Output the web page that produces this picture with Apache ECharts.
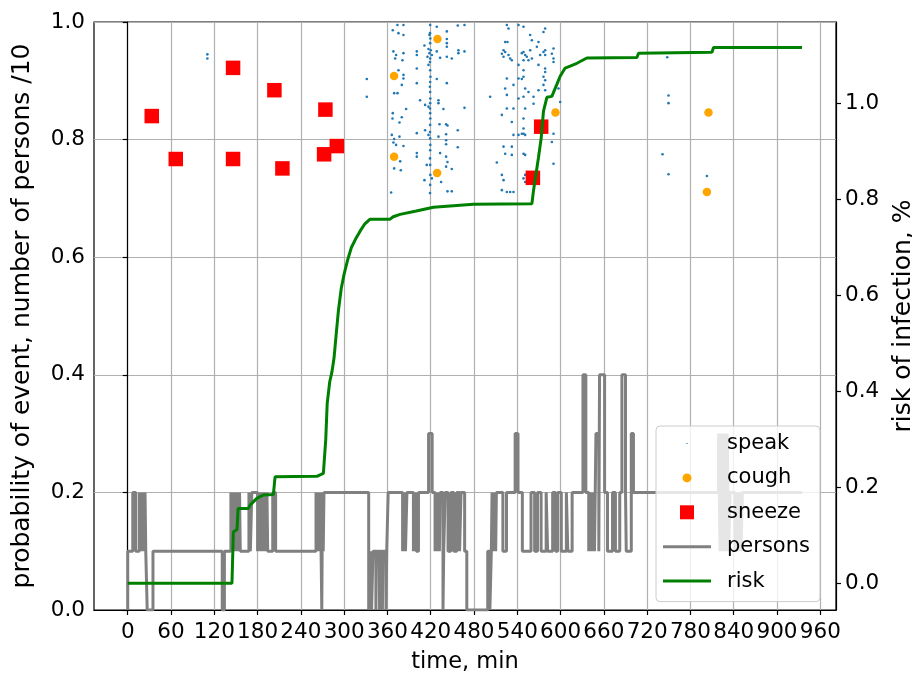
<!DOCTYPE html>
<html><head><meta charset="utf-8">
<script src="https://cdn.jsdelivr.net/npm/echarts@6/dist/echarts.min.js"></script>
<style>html,body{margin:0;padding:0;background:#fff}#chart{width:912px;height:676px}</style>
</head><body><div id="chart"></div>
<script>
const xTicks = [0,60,120,180,240,300,360,420,480,540,600,660,720,780,840,900,960];
const riskTicks = [0,0.2,0.4,0.6,0.8,1.0];

const speak = [
[110.4,0.945],[110.4,0.938],[331.4,0.903],[331.4,0.873],
[367.4,0.986],[373.9,0.995],[382.2,0.995],[375.3,0.981],[382.2,0.978],[368.3,0.950],[372.0,0.944],[382.2,0.947],[370.7,0.938],[380.8,0.935],[375.3,0.918],[382.2,0.910],[382.2,0.904],[379.9,0.893],[369.3,0.879],[373.9,0.879],[385.9,0.852],[367.4,0.845],[367.0,0.836],[379.9,0.838],[376.7,0.829],[366.0,0.808],[376.7,0.805],[369.3,0.801],[368.3,0.795],[372.0,0.791],[382.2,0.789],[377.6,0.763],[369.3,0.751],[378.5,0.748],[365.1,0.710],
[419.2,0.995],[419.0,0.981],[419.4,0.972],[419.2,0.964],[419.0,0.932],[419.2,0.918],[419.6,0.907],[419.2,0.898],[418.8,0.890],[419.2,0.881],[419.4,0.870],[419.2,0.862],[419.0,0.853],[419.2,0.845],[419.4,0.836],[419.2,0.825],[419.0,0.813],[419.2,0.802],[419.4,0.791],[419.2,0.782],[419.0,0.768],[419.2,0.757],[419.4,0.740],[419.2,0.723],[419.0,0.709],
[416.9,0.954],[420.1,0.952],[418.3,0.947],[421.5,0.944],[415.5,0.941],[419.2,0.938],
[400.7,0.950],[400.7,0.944],[411.3,0.960],[418.2,0.978],[416.9,0.927],[400.7,0.921],[400.7,0.896],[405.3,0.867],[412.2,0.859],[400.7,0.811],[412.2,0.816],[400.7,0.777],[400.7,0.771],[411.3,0.731],[414.5,0.757],[421.5,0.734],[426.1,0.740],[416.9,0.856],[416.9,0.808],
[428.4,0.992],[442.3,0.984],[442.3,0.971],[442.3,0.964],[442.3,0.958],[428.4,0.950],[433.0,0.939],[442.3,0.941],[449.2,0.938],[458.4,0.952],[458.4,0.947],[466.8,0.950],[428.4,0.903],[442.3,0.896],[430.7,0.867],[430.7,0.862],[437.6,0.852],[466.8,0.854],[432.1,0.826],[441.3,0.826],[443.2,0.824],[457.5,0.816],[441.3,0.809],[430.7,0.805],[441.3,0.799],[441.3,0.792],[457.5,0.787],[433.0,0.777],[441.3,0.771],[443.2,0.762],[449.2,0.750],[441.3,0.754],[434.4,0.728],[443.2,0.712],[449.2,0.712],[457.5,0.994],[466.8,0.995],
[502.3,0.873],[511.6,0.761],
[525.5,0.995],[527.8,0.989],[523.2,0.966],[526.4,0.966],[520.9,0.952],[518.6,0.946],[523.2,0.949],[527.8,0.944],[530.1,0.938],[520.9,0.941],[532.4,0.935],[525.5,0.904],[523.2,0.887],[534.7,0.893],[525.5,0.876],[518.6,0.842],[525.5,0.853],[534.7,0.853],[532.4,0.830],[534.7,0.808],[520.9,0.788],[532.4,0.788],[532.4,0.774],[523.2,0.776],[518.6,0.740],[520.9,0.731],[518.6,0.714],[525.5,0.711],[530.1,0.711],[534.7,0.711],
[541.7,0.995],[548.6,0.992],[557.8,0.978],[560.2,0.969],[548.6,0.949],[550.9,0.944],[553.2,0.941],[546.3,0.947],[557.8,0.952],[560.2,0.938],[548.6,0.935],[555.5,0.935],[541.7,0.927],[548.6,0.918],[569.4,0.966],[567.1,0.958],[541.7,0.904],[546.3,0.903],[548.6,0.907],[550.9,0.887],[555.5,0.881],[548.6,0.873],[562.5,0.873],[541.7,0.870],[562.5,0.861],[550.9,0.853],[548.6,0.836],[548.6,0.819],[548.6,0.810],[541.7,0.808],[546.3,0.810],[550.9,0.808],[548.6,0.776],[550.9,0.774],[550.9,0.740],[548.6,0.734],[550.9,0.728],[557.8,0.725],
[571.7,0.944],[576.3,0.949],[578.6,0.944],[578.6,0.952],[576.3,0.983],[578.6,0.989],[590.2,0.955],[587.9,0.946],[590.2,0.938],[590.2,0.932],[578.6,0.921],[578.6,0.915],[576.3,0.907],[578.6,0.901],[576.3,0.893],[569.4,0.884],[578.6,0.884],[597.1,0.887],[599.4,0.864],[590.2,0.810],[587.9,0.796],[590.2,0.759],[569.4,0.927],
[747.8,0.940],[749.6,0.875],[749.6,0.862],[741.3,0.775],[749.6,0.741],[802.8,0.738]
];

const cough = [[429.3,0.971],[369.2,0.908],[369.2,0.771],[428.9,0.743],[592.9,0.846],[805.0,0.846],[802.8,0.711]];

const sneeze = [[33.3,0.840],[66.6,0.767],[146.0,0.922],[146.0,0.767],[203.3,0.884],[214.4,0.751],[274.0,0.851],[272.2,0.775],[289.8,0.789],[561.6,0.735],[573.1,0.822]];

// number of persons present (change points, value holds until next time)
const persons = [
[0,0],[0,1],[7,2],[11,1],[16,2],[17,1],[18,2],[19,1],[20,2],[21,1],[22,2],[23,1],[24,2],[25,1],[27,0],[35,1],
[131,0],[134,1],
[143,2],[144,1],[145,2],[146,1],[147,2],[148,1],[149,2],[150,1],[151,2],[152,1],[153,2],[154,1],[155,2],[156,1],
[168,2],[170,1],[172,2],[180,1],[181,2],[183,1],[184,2],[186,1],[187,2],[189,1],[190,2],[192,1],[193,2],[194,1],
[201,2],[205,1],
[261,2],[262,1],[263,2],[264,1],[265,2],[266,1],[267,2],[268,1],[269,0],[270,2],[271,1],[272,2],
[334,0],[336,1],[338,0],[340,1],[344,0],[345,1],[349,0],[350,1],[353,0],[354,1],[358,0],[359,1],[361,2],
[381,1],[382,2],[383,1],[384,2],[385,1],[387,2],
[396,1],[397,2],[398,1],[399,2],[400,1],[403,2],
[417,3],[422,2],
[426,1],[427,2],[428,1],[429,2],[430,1],[431,2],[432,1],[433,2],
[437,0],[438,1],[440,2],[444,1],[448,2],[452,1],[456,2],[460,1],[462,2],[467,1],[470,0],
[499,1],[502,0],[504,1],[505,2],[506,1],[507,2],[508,1],[509,2],[510,1],[511,2],
[520,1],[525,2],[537,3],[541,2],[547,1],[559,2],[564,1],[568,2],[573,1],[580,2],[582,1],[589,2],[593,1],[596,2],[601,1],[608,2],[610,1],[616,2],
[631,4],[635,2],[639,1],[640,2],[641,1],[642,2],[643,1],[644,2],[645,1],[646,2],[647,1],[648,2],[649,3],[653,1],[654,4],[661,2],[665,1],[672,2],[676,1],[682,2],[685,4],[690,2],[691,1],[698,3],[701,2],
[819,3],[821,1],[823,3],[825,1],[827,3],[829,1],[831,3],[833,1],[835,2],[842,1],[844,2],[846,1],[848,2],[850,1],[852,2],[935,2]
];

const risk = [
[0,0],[144.5,0],[146.4,0.107],[151.5,0.112],[153,0.156],[167.2,0.156],[169.6,0.163],[178.9,0.177],[188.0,0.184],[201.9,0.185],[204.2,0.222],[262.1,0.223],[271.2,0.229],[274.5,0.300],[276.5,0.375],[280,0.420],[283,0.440],[286,0.470],[289,0.520],[292.0,0.568],[296,0.615],[300,0.645],[305,0.675],[310,0.700],[316,0.718],[322.1,0.734],[328,0.748],[335.9,0.759],[363.6,0.759],[368,0.764],[377.5,0.769],[400,0.776],[423.7,0.784],[479.2,0.790],[560.2,0.791],[562.4,0.818],[569.3,0.887],[573.1,0.928],[576.3,0.984],[581.0,1.013],[587.9,1.015],[594.8,1.040],[599.4,1.057],[606.3,1.074],[613.2,1.078],[622.6,1.084],[636.4,1.095],[705.8,1.096],[708.0,1.105],[809.8,1.107],[812.0,1.117],[934.6,1.117]
];

const FONT = 'DejaVu Sans';
const txt = {color:'#000', fontSize:21.5, fontFamily:FONT};
const nameTxt = {color:'#000', fontSize:25, fontFamily:FONT};
const chart = echarts.init(document.getElementById('chart'), null, {renderer:'canvas'});
chart.setOption({
  animation:false,
  backgroundColor:'#fff',
  grid:{left:94, right:76, top:22, bottom:66, show:true, borderColor:'#000', borderWidth:1.2, backgroundColor:'transparent', outerBoundsMode:'none'},
  legend:{
    orient:'vertical', left:656, top:426, selectedMode:false,
    padding:[7,10,10,7], itemWidth:48, itemHeight:14, itemGap:13.4,
    backgroundColor:'rgba(255,255,255,0.8)', borderColor:'#cccccc', borderWidth:1, borderRadius:4,
    textStyle:{color:'#000', fontSize:21, fontFamily:FONT, lineHeight:20, padding:[0,0,0,11]},
    data:[
      {name:'speak', icon:'path://M0,0M48,14M23.4,6.4h1.2v1.2h-1.2z'},
      {name:'cough', icon:'path://M0,0M48,14M28.5,7A4.5,4.5,0,1,1,19.5,7A4.5,4.5,0,1,1,28.5,7Z'},
      {name:'sneeze', icon:'path://M0,0M48,14M17,0H31V14H17Z'},
      {name:'persons', icon:'path://M0,0M48,14M0,5.5H48V8.5H0Z'},
      {name:'risk', icon:'path://M0,0M48,14M0,5.5H48V8.5H0Z'}
    ]
  },
  xAxis:{
    type:'value', min:-46.75, max:981.75,
    name:'time, min', nameLocation:'middle', nameGap:41, nameTextStyle:{color:'#000', fontSize:22.5, fontFamily:FONT}, nameMoveOverlap:false,
    axisLine:{show:true, onZero:false, lineStyle:{color:'#000', width:1.2}},
    axisTick:{show:true, length:5, customValues:xTicks, lineStyle:{color:'#000', width:1.2}},
    axisLabel:Object.assign({customValues:xTicks, margin:11, hideOverlap:false}, txt),
    splitLine:{show:true, lineStyle:{color:'#b0b0b0', width:1.2}}
  },
  yAxis:[
    {type:'value', position:'left', min:0, max:1, interval:0.2,
     name:'probability of event, number of persons /10', nameLocation:'middle', nameRotate:90, nameGap:59, nameTextStyle:nameTxt, nameMoveOverlap:false,
     axisLine:{show:true, lineStyle:{color:'#000', width:1.2}},
     axisTick:{show:true, length:5, lineStyle:{color:'#000', width:1.2}},
     axisLabel:Object.assign({margin:9, formatter:v=>v.toFixed(1)}, txt),
     splitLine:{show:true, lineStyle:{color:'#b0b0b0', width:1.2}}},
    {type:'value', position:'right', min:-0.0557, max:1.17,
     name:'risk of infection, %', nameLocation:'middle', nameRotate:90, nameGap:55, nameTextStyle:nameTxt, nameMoveOverlap:false,
     axisLine:{show:true, lineStyle:{color:'#000', width:1.2}},
     axisTick:{show:true, length:5, customValues:riskTicks, lineStyle:{color:'#000', width:1.2}},
     axisLabel:Object.assign({customValues:riskTicks, margin:9, formatter:v=>v.toFixed(1)}, txt),
     splitLine:{show:false}}
  ],
  series:[
    {name:'speak', type:'scatter', data:speak, symbol:'circle', symbolSize:2.6, itemStyle:{color:'#1f77b4', opacity:1}, emphasis:{disabled:true}, silent:true},
    {name:'cough', type:'scatter', data:cough, symbol:'circle', symbolSize:8.5, itemStyle:{color:'#ffa500', opacity:1}, emphasis:{disabled:true}, silent:true},
    {name:'sneeze', type:'scatter', data:sneeze, symbol:'rect', symbolSize:14.5, itemStyle:{color:'#ff0000', opacity:1}, emphasis:{disabled:true}, silent:true},
    {name:'persons', type:'line', step:'end', data:persons.map(p=>[p[0], p[1]/10]), symbol:'none', color:'#808080', lineStyle:{color:'#808080', width:3}, emphasis:{disabled:true}, silent:true},
    {name:'risk', type:'line', yAxisIndex:1, data:risk, symbol:'none', color:'#008000', lineStyle:{color:'#008000', width:3}, emphasis:{disabled:true}, silent:true}
  ]
});
</script></body></html>
